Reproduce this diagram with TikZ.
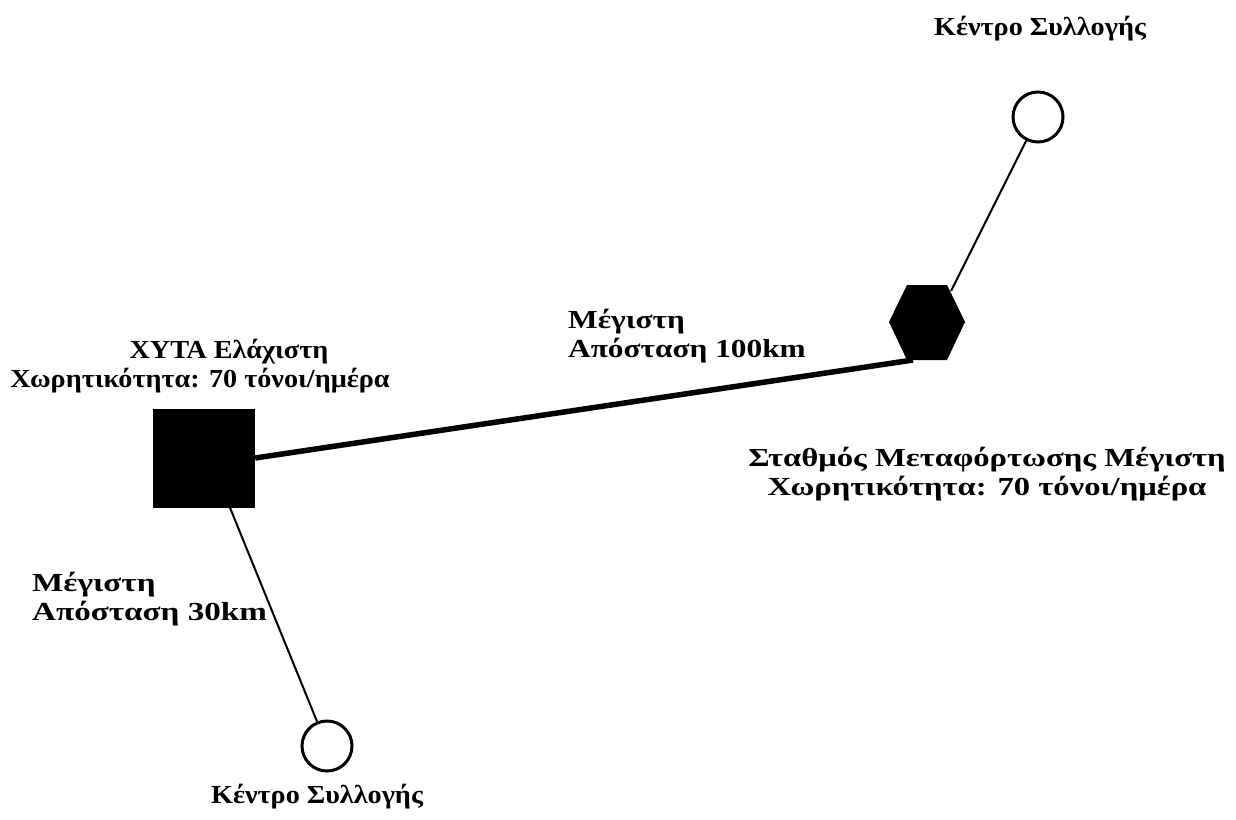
\documentclass[tikz,border=0pt]{standalone}
\usepackage{fontspec}
\setmainfont{Liberation Serif}[FakeStretch=1.18]
\newfontfamily\fnarrow{Liberation Serif}[FakeStretch=1.085]
\newfontfamily\fwide{Liberation Serif}[FakeStretch=1.255]
\newfontfamily\fwider{Liberation Serif}[FakeStretch=1.275]
\newfontfamily\fmid{Liberation Serif}[FakeStretch=1.205]
\begin{document}
\begin{tikzpicture}[x=1pt,y=-1pt,
  lbl/.style={font=\fontsize{26}{28.5}#1\bfseries, inner sep=0pt, align=center},
  lbll/.style={lbl=#1, align=left},
  center/.style={circle, draw, line width=3pt, fill=white, minimum size=50pt, inner sep=0pt},
  thin/.style={line width=2pt},
  thick/.style={line width=5.5pt}]
\useasboundingbox (0,0) rectangle (1236,819);
% nodes
\node[fill=black, minimum width=102pt, minimum height=99pt, inner sep=0pt] (xyta) at (204,458) {};
\fill[black] (907,285) -- (947,285) -- (965,322) -- (947,360) -- (907,360) -- (889,322) -- cycle;
\coordinate (hex) at (926,322);
\coordinate (hexbl) at (913,360);
\coordinate (hextr) at (951,291);
\node[center] (c1) at (1038,117) {};
\node[center] (c2) at (327,746) {};
% connectors
\draw[thick] (xyta.east) -- (hexbl);
\draw[thin] (hextr) -- (c1);
\draw[thin] ([xshift=26pt]xyta.south) -- (c2);
% labels
\node[lbl=\fnarrow, anchor=base] (t1) at (1040,35) {Κέντρο Συλλογής};
\node[lbl=\fnarrow, anchor=base] (t2) at (200,387) {\hspace*{58pt}ΧΥΤΑ Ελάχιστη\\Χωρητικότητα: 70 τόνοι/ημέρα};
\node[lbll=\fmid, anchor=base west] (t3) at (568,357) {Μέγιστη\\Απόσταση 100km};
\node[lbl=\fwide, anchor=base] (t4) at (987,495) {Σταθμός Μεταφόρτωσης Μέγιστη\\Χωρητικότητα: 70 τόνοι/ημέρα};
\node[lbll=\fwider, anchor=base west] (t5) at (32,620) {Μέγιστη\\Απόσταση 30km};
\node[lbl=\fnarrow, anchor=base] (t6) at (317,803) {Κέντρο Συλλογής};
\end{tikzpicture}
\end{document}
